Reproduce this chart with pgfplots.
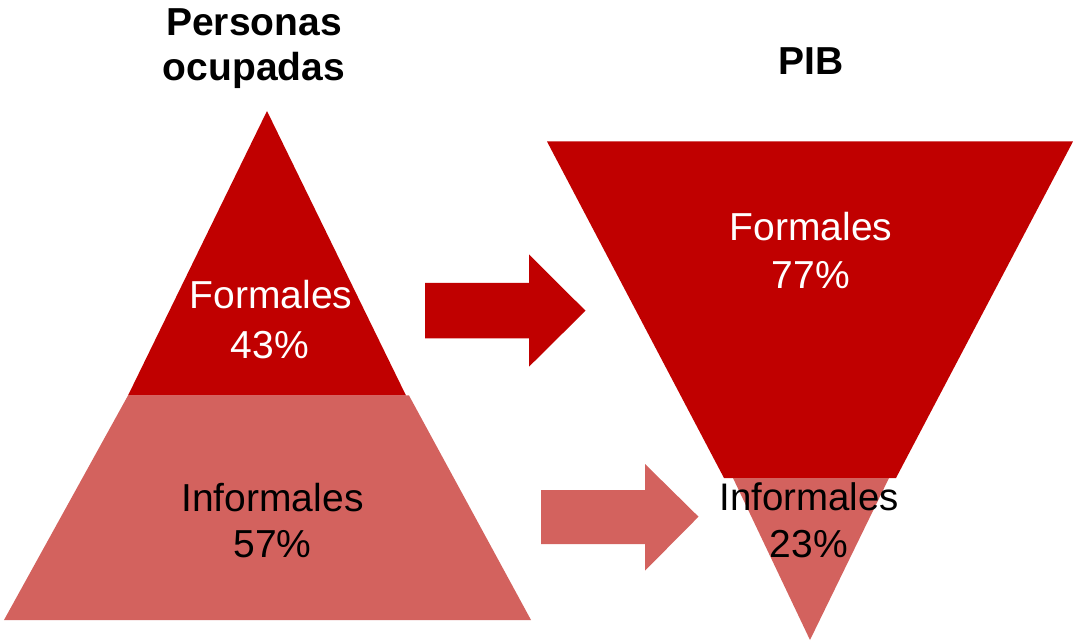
\documentclass[border=0pt]{standalone}
\usepackage{pgfplots}
\pgfplotsset{compat=1.18}
\usepackage{fontspec}
\setmainfont{Liberation Sans}
\definecolor{dred}{HTML}{C00000}
\definecolor{lred}{HTML}{D3625E}
\begin{document}
\begin{tikzpicture}
\begin{axis}[width=536.5pt,height=321pt,scale only axis,
  xmin=0,xmax=1073,ymin=0,ymax=642,y dir=reverse,hide axis,clip=false,
  every axis plot/.append style={mark=none}]
% frame for bounding box
\addplot[draw=none] coordinates {(0,0) (1073,642)};
% left pyramid
\addplot[fill=lred,draw=none] coordinates {(128,395.5) (409,395.5) (531,620) (4,620)} -- cycle;
\addplot[fill=dred,draw=none] coordinates {(267,111) (406,395.5) (128,395.5)} -- cycle;
% right inverted pyramid
\addplot[fill=dred,draw=none] coordinates {(547,141.5) (1073,141.5) (896,478) (724,478)} -- cycle;
\addplot[fill=lred,draw=none] coordinates {(733,478) (889,478) (810,640)} -- cycle;
% arrows
\addplot[fill=dred,draw=none] coordinates {(425,283) (529,283) (529,254.5) (585.5,310.7) (529,366.7) (529,338.3) (425,338.3)} -- cycle;
\addplot[fill=lred,draw=none] coordinates {(541,490) (645,490) (645,464) (698.5,516.7) (645,570.7) (645,544) (541,544)} -- cycle;
% texts
\tikzset{lbl/.style={anchor=base,inner sep=0pt,font=\fontsize{19.5}{24}\selectfont}}
\node[lbl,font=\fontsize{19.5}{24}\selectfont\bfseries] at (axis cs:254,36) {Personas};
\node[lbl,font=\fontsize{19.5}{24}\selectfont\bfseries] at (axis cs:254,81) {ocupadas};
\node[lbl,font=\fontsize{19.5}{24}\selectfont\bfseries] at (axis cs:811,75) {PIB};
\node[lbl,text=white] at (axis cs:271,309) {Formales};
\node[lbl,text=white] at (axis cs:270,358) {43\%};
\node[lbl] at (axis cs:272.5,511) {Informales};
\node[lbl] at (axis cs:272.5,557) {57\%};
\node[lbl,text=white] at (axis cs:811,241) {Formales};
\node[lbl,text=white] at (axis cs:811,289) {77\%};
\node[lbl,font=\fontsize{19.2}{24}\selectfont] at (axis cs:809,510) {Informales};
\node[lbl] at (axis cs:809,557) {23\%};
\end{axis}
\end{tikzpicture}
\end{document}
